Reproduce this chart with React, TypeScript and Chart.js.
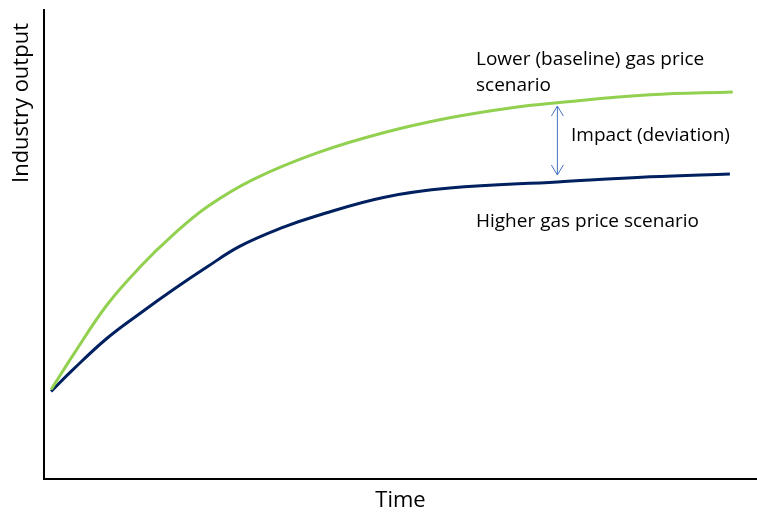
import React, { useEffect, useRef } from "react";
import { Chart, registerables } from "chart.js";

Chart.register(...registerables);

// Time (0-100) and output (0-100) readings
const lowerTime = [1, 4.1, 8.8, 13.5, 18.1, 22.9, 29.3, 38.3, 47.6, 56.9, 65.4, 72, 85, 96.6];
const lowerGasPrice = [19.0, 26.4, 37.0, 45.2, 52.0, 58.0, 63.8, 69.5, 73.8, 77.0, 79.1, 80.2, 81.9, 82.5];
const higherTime = [1, 4.1, 8.8, 13.5, 18.1, 22.9, 27.5, 33.5, 38.3, 47.6, 56.9, 72, 85, 96.2];
const higherGasPrice = [18.6, 23.3, 29.9, 35.3, 40.3, 45.2, 49.6, 53.6, 56.1, 60.0, 62.0, 63.3, 64.4, 65.0];

const seriesNames = ["Lower (baseline) gas price scenario", "Higher gas price scenario"];
const axisTitles = { x: "Time", y: "Industry output" };
const impactLabel = "Impact (deviation)";
const impactTime = 72;
const impactRange = [79.5, 64.8];

const FONT = "'Open Sans', sans-serif";

export default function App() {
  const ref = useRef<HTMLCanvasElement>(null);

  useEffect(() => {
    document.body.style.margin = "0";
    const canvas = ref.current!;

    const annot = {
      id: "annot",
      afterDatasetsDraw(chart: any) {
        const { ctx, scales } = chart;
        const xs = scales.x;
        const ys = scales.y;
        ctx.save();
        // y-axis title
        ctx.fillStyle = "#000";
        ctx.font = `22px ${FONT}`;
        ctx.textAlign = "center";
        ctx.textBaseline = "middle";
        ctx.translate(22, 103);
        ctx.rotate(-Math.PI / 2);
        ctx.fillText(axisTitles.y, 0, 0);
        ctx.restore();

        ctx.save();
        ctx.fillStyle = "#000";
        ctx.font = `19px ${FONT}`;
        ctx.textAlign = "left";
        ctx.textBaseline = "middle";
        ctx.fillText("Lower (baseline) gas price", 476, 60);
        ctx.fillText("scenario", 476, 86);
        ctx.fillText(seriesNames[1], 476, 222);
        ctx.fillText(impactLabel, 571, 136);

        // arrow
        const ax = xs.getPixelForValue(impactTime);
        const y1 = ys.getPixelForValue(impactRange[0]);
        const y2 = ys.getPixelForValue(impactRange[1]);
        ctx.strokeStyle = "#4472C4";
        ctx.lineWidth = 1;
        ctx.beginPath();
        ctx.moveTo(ax, y1);
        ctx.lineTo(ax, y2);
        ctx.moveTo(ax - 6, y1 + 10);
        ctx.lineTo(ax, y1);
        ctx.lineTo(ax + 6, y1 + 10);
        ctx.moveTo(ax - 6, y2 - 10);
        ctx.lineTo(ax, y2);
        ctx.lineTo(ax + 6, y2 - 10);
        ctx.stroke();
        ctx.restore();
      },
    };

    const chart = new Chart(canvas, {
      type: "line",
      data: {
        datasets: [
          {
            label: seriesNames[0],
            data: lowerTime.map((t, i) => ({ x: t, y: lowerGasPrice[i] })),
            borderColor: "#92D050",
            borderWidth: 3,
            pointRadius: 0,
            tension: 0.4,
            fill: false,
          },
          {
            label: seriesNames[1],
            data: higherTime.map((t, i) => ({ x: t, y: higherGasPrice[i] })),
            borderColor: "#002060",
            borderWidth: 3,
            pointRadius: 0,
            tension: 0.4,
            fill: false,
          },
        ],
      },
      options: {
        responsive: false,
        animation: false,
        layout: { padding: { top: 10, right: 0, left: 0, bottom: 0 } },
        plugins: { legend: { display: false }, tooltip: { enabled: false } },
        scales: {
          x: {
            type: "linear",
            min: 0,
            max: 100,
            grid: { display: false, drawTicks: false },
            ticks: { display: false },
            border: { display: true, color: "#000", width: 2 },
            title: {
              display: true,
              text: axisTitles.x,
              color: "#000",
              font: { family: FONT, size: 22 },
              padding: { top: 9, bottom: 0 },
            },
          },
          y: {
            min: 0,
            max: 100,
            grid: { display: false, drawTicks: false },
            ticks: { display: false },
            border: { display: true, color: "#000", width: 2 },
            afterFit: (s: any) => {
              s.width = 44;
            },
          },
        },
      },
      plugins: [annot],
    });
    return () => chart.destroy();
  }, []);

  return (
    <div style={{ width: 757, height: 514 }}>
      <canvas ref={ref} width={757} height={514} />
    </div>
  );
}
